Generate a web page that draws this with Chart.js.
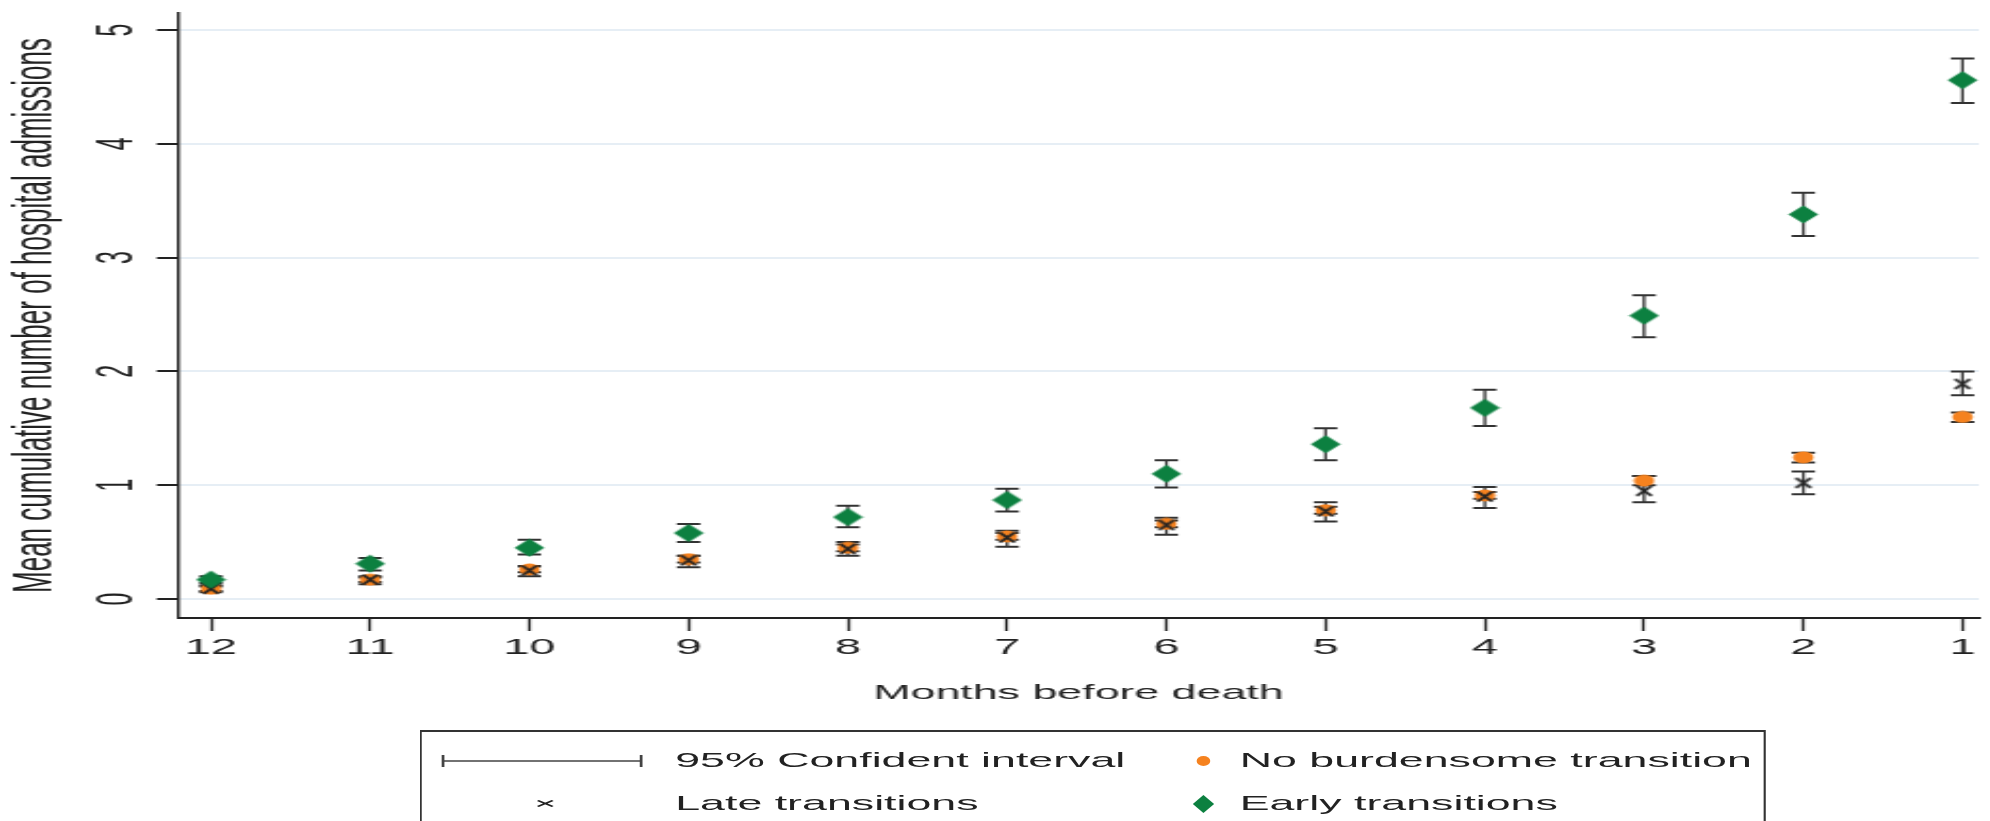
<!DOCTYPE html>
<html>
<head>
<meta charset="utf-8">
<script src="https://cdn.jsdelivr.net/npm/chart.js@4.4.1/dist/chart.umd.min.js"></script>
<style>
  html, body { margin: 0; padding: 0; background: #fff; overflow: hidden; }
  /* the original graph is stretched sideways, so draw narrow and scale x */
  #stage { position: absolute; left: 0; top: 0; width: 934px; height: 821px; transform: scaleX(2.13); transform-origin: 0 0; }
  #wrap { position: absolute; left: 0; top: 0; width: 934px; height: 821px; }
  #legend { position: absolute; left: 197px; top: 730px; width: 632px; height: 130px; box-sizing: border-box;
            border-style: solid; border-color: #333; border-width: 2px 1.3px; font-family: "Liberation Sans", Arial, sans-serif;
            font-size: 21px; color: #222; }
  .item { position: absolute; white-space: nowrap; line-height: 24px; }
  .sym { position: absolute; }
</style>
</head>
<body>
<div id="stage">
  <div id="wrap"><canvas id="chart"></canvas></div>
  <div id="legend">
    <svg class="sym" style="left:9px;top:22px" width="95" height="14"><path d="M1 1V13M1 7H94M94 1V13" stroke="#444" stroke-width="1.3" fill="none"/></svg>
    <div class="item" style="left:119px;top:16px">95% Confident interval</div>
    <svg class="sym" style="left:53px;top:66px" width="10" height="10"><path d="M1.5 2.5L8.5 8.5M8.5 2.5L1.5 8.5" stroke="#222" stroke-width="1.4"/></svg>
    <div class="item" style="left:119px;top:59px">Late transitions</div>
    <svg class="sym" style="left:362px;top:22px" width="10" height="14"><ellipse cx="5" cy="7" rx="3.2" ry="5" fill="#f5821f"/></svg>
    <div class="item" style="left:384px;top:16px">No burdensome transition</div>
    <svg class="sym" style="left:361px;top:63px" width="12" height="18"><path d="M6 0L11 9L6 18L1 9Z" fill="#0c8040"/></svg>
    <div class="item" style="left:384px;top:59px">Early transitions</div>
  </div>
</div>
<script>
// months before death (x), 12 down to 1
const months = [12, 11, 10, 9, 8, 7, 6, 5, 4, 3, 2, 1];
const yTicks = [0, 1, 2, 3, 4, 5];

// early transitions (green diamonds) and 95% CI
const early     = [0.17, 0.31, 0.45, 0.58, 0.72, 0.87, 1.10, 1.36, 1.68, 2.49, 3.38, 4.56];
const earlyLow  = [0.14, 0.25, 0.39, 0.50, 0.63, 0.77, 0.98, 1.22, 1.52, 2.30, 3.19, 4.36];
const earlyHigh = [0.20, 0.36, 0.52, 0.66, 0.82, 0.97, 1.22, 1.50, 1.84, 2.67, 3.57, 4.75];

// late transitions (black x)
const late     = [0.09, 0.17, 0.25, 0.34, 0.44, 0.54, 0.65, 0.77, 0.90, 0.95, 1.02, 1.89];
const lateLow  = [0.06, 0.13, 0.20, 0.28, 0.38, 0.46, 0.565, 0.68, 0.80, 0.85, 0.92, 1.79];
const lateHigh = [0.12, 0.20, 0.29, 0.38, 0.50, 0.60, 0.715, 0.85, 0.985, 1.08, 1.12, 2.00];

// no burdensome transition (orange dots)
const noBurden     = [0.09, 0.17, 0.26, 0.35, 0.45, 0.55, 0.66, 0.78, 0.91, 1.04, 1.245, 1.60];
const noBurdenLow  = [0.07, 0.15, 0.235, 0.32, 0.42, 0.52, 0.63, 0.75, 0.88, 1.00, 1.20, 1.555];
const noBurdenHigh = [0.11, 0.19, 0.285, 0.38, 0.48, 0.58, 0.69, 0.81, 0.94, 1.08, 1.285, 1.64];

const GREEN = "#0c8040";
const ORANGE = "#f5821f";
const INK = "#222";

// marker images (drawn narrow, they get stretched with the page)
function makeCanvas(w, h, draw) {
	const c = document.createElement("canvas");
	c.width = w;
	c.height = h;
	draw(c.getContext("2d"));
	return c;
}
const diamondImg = makeCanvas(15, 19, (g) => {
	g.fillStyle = GREEN;
	g.beginPath();
	g.moveTo(7.5, 0.5); g.lineTo(14.5, 9.5); g.lineTo(7.5, 18.5); g.lineTo(0.5, 9.5);
	g.closePath();
	g.fill();
});
const dotImg = makeCanvas(11, 13, (g) => {
	g.fillStyle = ORANGE;
	g.beginPath();
	g.ellipse(5.5, 6.5, 4.8, 6, 0, 0, Math.PI * 2);
	g.fill();
});
const crossImg = makeCanvas(10, 13, (g) => {
	g.strokeStyle = INK;
	g.lineWidth = 1.9;
	g.beginPath();
	g.moveTo(1.5, 1.5); g.lineTo(8.5, 11.5);
	g.moveTo(8.5, 1.5); g.lineTo(1.5, 11.5);
	g.stroke();
});

const pts = (vals) => vals.map((v, i) => ({ x: months[i], y: v }));

// 95% CI caps, drawn under the markers
const errorBars = {
	id: "errorBars",
	beforeDatasetsDraw(chart) {
		const { ctx, scales: { x, y } } = chart;
		ctx.save();
		ctx.strokeStyle = "#333";
		chart.data.datasets.forEach((ds) => {
			ds.low.forEach((lo, i) => {
				const px = x.getPixelForValue(months[i]);
				const y1 = y.getPixelForValue(lo);
				const y2 = y.getPixelForValue(ds.high[i]);
				ctx.lineWidth = 1.3;
				ctx.beginPath();
				ctx.moveTo(px, y1); ctx.lineTo(px, y2);
				ctx.stroke();
				ctx.lineWidth = 2;
				ctx.beginPath();
				ctx.moveTo(px - 5.5, y1); ctx.lineTo(px + 5.5, y1);
				ctx.moveTo(px - 5.5, y2); ctx.lineTo(px + 5.5, y2);
				ctx.stroke();
			});
		});
		ctx.restore();
	}
};

// y labels are turned on their side like the original
const sideLabels = {
	id: "sideLabels",
	afterDraw(chart) {
		const { ctx, scales: { y } } = chart;
		ctx.save();
		ctx.fillStyle = INK;
		ctx.font = "23px 'Liberation Sans', Arial, sans-serif";
		ctx.textAlign = "center";
		ctx.textBaseline = "middle";
		yTicks.forEach((v) => {
			ctx.save();
			ctx.translate(56, y.getPixelForValue(v));
			ctx.rotate(-Math.PI / 2);
			ctx.fillText(String(v), 0, 0);
			ctx.restore();
		});
		ctx.restore();
	}
};

Chart.defaults.font.family = "'Liberation Sans', Arial, sans-serif";
Chart.defaults.color = INK;

new Chart(document.getElementById("chart"), {
	type: "scatter",
	data: {
		datasets: [
			{ label: "Early transitions", data: pts(early), low: earlyLow, high: earlyHigh, pointStyle: diamondImg },
			{ label: "Late transitions", data: pts(late), low: lateLow, high: lateHigh, pointStyle: crossImg },
			{ label: "No burdensome transition", data: pts(noBurden), low: noBurdenLow, high: noBurdenHigh, pointStyle: dotImg }
		]
	},
	options: {
		responsive: true,
		maintainAspectRatio: false,
		animation: false,
		layout: { padding: { top: 13, right: 0, bottom: 106, left: 0 } },
		plugins: { legend: { display: false }, tooltip: { enabled: false } },
		scales: {
			x: {
				type: "linear",
				reverse: true,
				min: 0.898,
				max: 12.206,
				afterBuildTicks: (s) => { s.ticks = months.map((v) => ({ value: v })); },
				afterFit: (s) => { s.height = 97; },
				ticks: { font: { size: 22 }, color: INK, padding: 4, maxRotation: 0, autoSkip: false, callback: (v) => String(v) },
				grid: { drawOnChartArea: false, tickLength: 13, tickWidth: 1.3, tickColor: INK },
				border: { color: INK, width: 2 },
				title: { display: true, text: "Months before death", font: { size: 21 }, color: INK, padding: { top: 0, bottom: 9 } }
			},
			y: {
				min: -0.167,
				max: 5.15,
				afterBuildTicks: (s) => { s.ticks = yTicks.map((v) => ({ value: v })); },
				afterFit: (s) => { s.width = 83.6; },
				ticks: { display: false },
				grid: { color: "#e6eef5", lineWidth: 2, tickLength: 10, tickWidth: 2, tickColor: INK },
				border: { color: INK, width: 1.4 },
				title: { display: true, text: "Mean cumulative number of hospital admissions", font: { size: 26 }, color: INK, padding: { top: 1, bottom: 0 } }
			}
		}
	},
	plugins: [errorBars, sideLabels]
});
</script>
</body>
</html>
